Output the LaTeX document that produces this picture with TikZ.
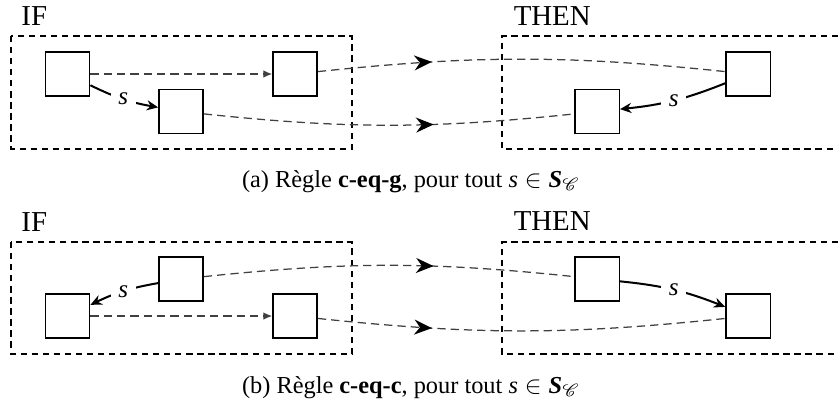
\documentclass[tikz,border=0pt]{standalone}
\usepackage{fontspec}
\setmainfont{Liberation Serif}
\usepackage{mathrsfs}
\usetikzlibrary{arrows.meta,decorations.markings}

\begin{document}
\begin{tikzpicture}[
  cell/.style={draw, semithick, minimum size=0.62cm, inner sep=0pt},
  frame/.style={line width=0.85pt, dash pattern=on 2.5pt off 1.9pt},
  link/.style={black!75, line width=0.5pt, dash pattern=on 3.3pt off 2pt},
  tip/.style={-{Latex[length=3.5pt,width=3pt]}},
  rel/.style={thick, -{Stealth[length=4.5pt,width=4pt]}},
  lbl/.style={fill=white, inner sep=3pt, font=\fontsize{10}{12}\selectfont},
  midarrow/.style={postaction={decorate}, decoration={markings,
    mark=at position #1 with {\arrow[black]{Stealth[length=7pt,width=6pt]}}}},
  tag/.style={font=\fontsize{11.5}{13}\selectfont},
  caption/.style={anchor=base, font=\fontsize{9.7}{11}\selectfont}
]
\useasboundingbox (0,0) rectangle (11.73,-5.67);

% (a) c-eq-g
\node[tag] (ifa) at (0.48,-0.23) {IF};
\node[tag] (thena) at (7.73,-0.22) {THEN};
\draw[frame] (0.154,-0.504) rectangle (4.928,-2.086);
\draw[frame] (11.73,-0.504) -- (7.028,-0.504) -- (7.028,-2.086) -- (11.73,-2.086);

\node[cell] (ga) at (0.945,-1.036) {};
\node[cell] (gb) at (4.13,-1.036) {};
\node[cell] (gc) at (2.534,-1.561) {};
\node[cell] (gd) at (10.472,-1.036) {};
\node[cell] (ge) at (8.358,-1.561) {};

\draw[link,tip] (ga) -- (gb);
\draw[rel] (ga) to[bend right=8] node[lbl] {\textit{s}} (gc);
\draw[rel] (gd) to[bend left=8] node[lbl] {\textit{s}} (ge);
\draw[link,midarrow=0.28] (gb) to[bend left=6] (gd);
\draw[link,midarrow=0.62] (gc) to[bend right=6] (ge);

\node[caption] (capa) at (5.754,-2.618)
  {(a) Règle \textbf{c-eq-g}, pour tout $\textit{s} \in \textbf{\textit{S}}_{\mathscr{C}}$};

% (b) c-eq-c
\node[tag] (ifb) at (0.48,-3.11) {IF};
\node[tag] (thenb) at (7.73,-3.10) {THEN};
\draw[frame] (0.154,-3.388) rectangle (4.928,-4.956);
\draw[frame] (11.73,-3.388) -- (7.028,-3.388) -- (7.028,-4.956) -- (11.73,-4.956);

\node[cell] (cf) at (2.534,-3.906) {};
\node[cell] (cg) at (0.945,-4.424) {};
\node[cell] (ch) at (4.13,-4.424) {};
\node[cell] (ci) at (8.358,-3.906) {};
\node[cell] (cj) at (10.472,-4.424) {};

\draw[link,tip] (cg) -- (ch);
\draw[rel] (cf) to[bend right=8] node[lbl] {\textit{s}} (cg);
\draw[rel] (ci) to[bend left=8] node[lbl] {\textit{s}} (cj);
\draw[link,midarrow=0.62] (cf) to[bend left=6] (ci);
\draw[link,midarrow=0.28] (ch) to[bend right=6] (cj);

\node[caption] (capb) at (5.754,-5.502)
  {(b) Règle \textbf{c-eq-c}, pour tout $\textit{s} \in \textbf{\textit{S}}_{\mathscr{C}}$};
\end{tikzpicture}
\end{document}
